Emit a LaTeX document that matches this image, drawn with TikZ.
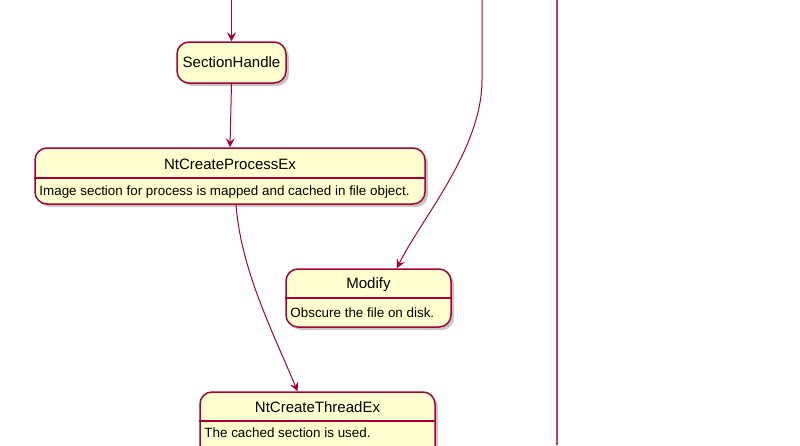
\documentclass[tikz,border=0pt]{standalone}
\usepackage{fontspec}
\setmainfont{Liberation Sans}
\usetikzlibrary{arrows.meta,shadows}
\definecolor{umlred}{HTML}{A80036}
\definecolor{umlfill}{HTML}{FEFECE}
\tikzset{
STATE/.style={draw=umlred,fill=umlfill,line width=1.5pt,rounded corners=12pt,inner sep=0pt,
  drop shadow={opacity=0.45,shadow xshift=3pt,shadow yshift=-3pt}},
SEP/.style={draw=umlred,line width=1.3pt},
TITLE/.style={font=\fontsize{15}{17}\selectfont,inner sep=0pt},
BODY/.style={font=\fontsize{13.4}{15}\selectfont,inner sep=0pt,anchor=west},
TRANS/.style={draw=umlred,line width=1pt,-{Stealth[length=9pt,width=9pt,inset=3.5pt]}},
LINE/.style={draw=umlred!75,line width=1.1pt},
}
\begin{document}
\begin{tikzpicture}[x=1pt,y=-1pt]
	\useasboundingbox (0,0) rectangle (800,445);
	\clip (0,0) rectangle (800,445);
	%states
	\node[STATE,minimum width=109pt,minimum height=41pt] (sect) at (231.5,62.5) {};
	\node[TITLE] (sectT) at (sect.center) {SectionHandle};
	\node[STATE,minimum width=390pt,minimum height=56pt] (proc) at (230,176) {};
	\path[SEP] (proc.west |- 0,178) -- (proc.east |- 0,178);
	\node[TITLE] (procT) at (proc.north |- 0,164) {NtCreateProcessEx};
	\node[BODY] (procB) at ([xshift=5pt]proc.west |- 0,192) {Image section for process is mapped and cached in file object.};
	\node[STATE,minimum width=165pt,minimum height=58pt] (modify) at (368.5,298) {};
	\path[SEP] (modify.west |- 0,298) -- (modify.east |- 0,298);
	\node[TITLE] (modifyT) at (modify.north |- 0,285) {Modify};
	\node[BODY] (modifyB) at ([xshift=5pt]modify.west |- 0,313) {Obscure the file on disk.};
	\node[STATE,minimum width=235pt,minimum height=90pt] (thread) at (317.5,437) {};
	\path[SEP] (thread.west |- 0,421) -- (thread.east |- 0,421);
	\node[TITLE] (threadT) at (thread.north |- 0,407) {NtCreateThreadEx};
	\node[BODY] (threadB) at ([xshift=5pt]thread.west |- 0,433) {The cached section is used.};
	%transitions
	\coordinate (sectIn) at (231.5,0);
	\coordinate (modIn) at (482,0);
	\coordinate (railA) at (557,0);
	\coordinate (railB) at (557,445);
	\path[TRANS] (sectIn) -- (sect.north);
	\path[TRANS] (sect.south) -- (proc.north);
	\path[TRANS] ([xshift=6pt]proc.south) .. controls +(5,65) and +(-25,-60) .. ([xshift=-20pt]thread.north);
	\path[TRANS] (modIn) -- ++(0,80) .. controls +(0,70) and +(23,-48) .. ([xshift=28.5pt]modify.north);
	\path[LINE] (railA) -- (railB);
\end{tikzpicture}
\end{document}
